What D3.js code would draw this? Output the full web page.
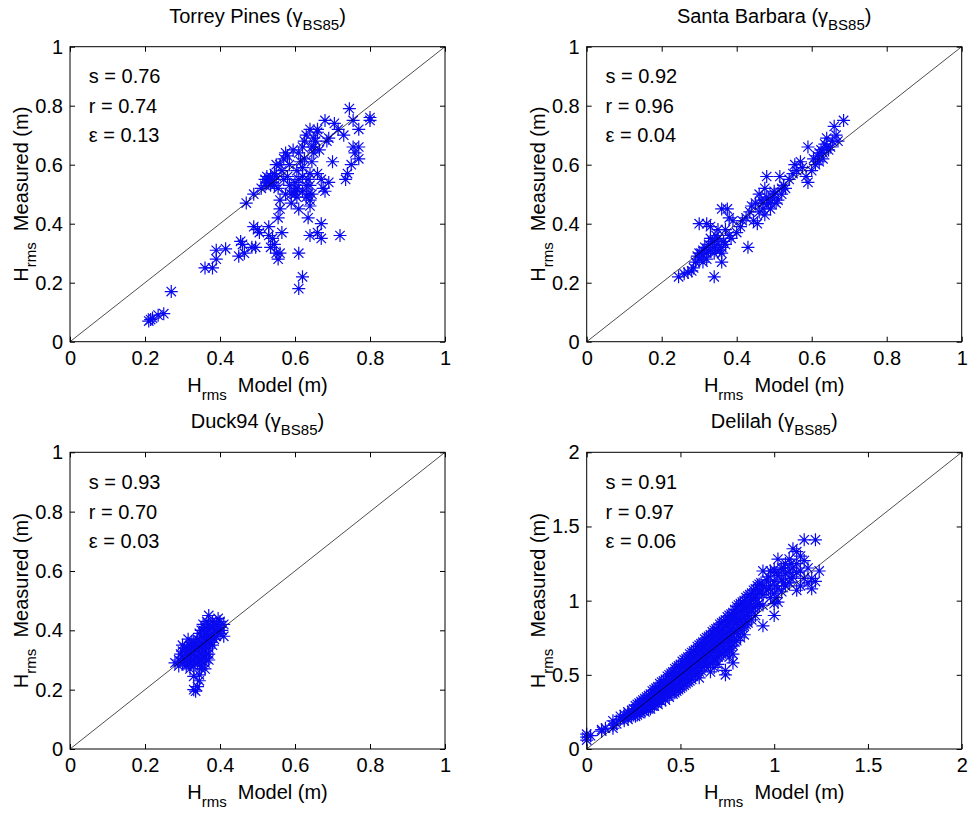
<!DOCTYPE html>
<html>
<head>
<meta charset="utf-8">
<script src="https://cdn.jsdelivr.net/npm/d3@7/dist/d3.min.js"></script>
<style>
html, body { margin: 0; padding: 0; background: #fff; }
svg { display: block; font-family: "Liberation Sans", Arial, sans-serif; }
</style>
</head>
<body>
<svg id="chart" width="968" height="813"></svg>
<script>
// ---------- DATA ----------
const panelTitles = ["Torrey Pines", "Santa Barbara", "Duck94", "Delilah"];
const statS = ["0.76", "0.92", "0.93", "0.91"];
const statR = ["0.74", "0.96", "0.70", "0.97"];
const statE = ["0.13", "0.04", "0.03", "0.06"];
const ticksUnit = [0, 0.2, 0.4, 0.6, 0.8, 1];
const ticksDouble = [0, 0.5, 1, 1.5, 2];

const torreyPines = [
  [0.21,0.07],[0.215,0.075],[0.22,0.08],[0.235,0.09],[0.25,0.095],[0.27,0.17],
  [0.36,0.25],[0.38,0.25],[0.39,0.31],[0.39,0.28],[0.415,0.315],[0.45,0.29],[0.455,0.34],
  [0.46,0.33],[0.465,0.30],[0.485,0.32],[0.49,0.39],[0.495,0.32],[0.50,0.38],[0.505,0.37],
  [0.53,0.39],[0.53,0.36],[0.535,0.32],[0.54,0.35],[0.545,0.33],[0.55,0.30],[0.555,0.28],
  [0.56,0.30],[0.565,0.37],[0.61,0.30],[0.62,0.22],[0.61,0.18],[0.635,0.42],[0.64,0.36],
  [0.66,0.37],[0.67,0.40],[0.67,0.35],[0.72,0.36],
  [0.47,0.47],[0.49,0.50],[0.51,0.52],[0.52,0.55],[0.525,0.56],[0.53,0.54],[0.535,0.56],
  [0.54,0.55],[0.545,0.57],[0.55,0.60],[0.555,0.52],[0.56,0.48],[0.56,0.45],[0.555,0.42],
  [0.565,0.58],[0.57,0.62],[0.58,0.63],[0.58,0.56],[0.585,0.53],[0.59,0.50],[0.595,0.65],
  [0.60,0.52],[0.605,0.49],[0.61,0.55],[0.61,0.45],[0.615,0.61],[0.62,0.66],[0.62,0.59],
  [0.625,0.62],[0.63,0.70],[0.63,0.53],[0.635,0.55],[0.64,0.48],[0.64,0.46],[0.645,0.50],
  [0.65,0.66],[0.65,0.64],[0.655,0.68],[0.66,0.71],[0.66,0.57],[0.665,0.65],[0.67,0.55],
  [0.675,0.52],[0.68,0.75],[0.685,0.68],[0.69,0.54],[0.69,0.69],[0.70,0.61],[0.705,0.74],
  [0.715,0.72],[0.73,0.70],[0.735,0.55],[0.74,0.57],[0.745,0.79],[0.75,0.60],[0.755,0.66],
  [0.755,0.75],[0.76,0.64],[0.77,0.72],[0.77,0.66],[0.77,0.62],[0.80,0.76],[0.80,0.75],
  [0.52,0.53],[0.545,0.53],[0.575,0.50],[0.60,0.54],[0.605,0.58],[0.62,0.51],[0.625,0.68],
  [0.64,0.57],[0.645,0.61],[0.61,0.64],[0.585,0.60],[0.57,0.55],[0.63,0.49],[0.68,0.51],
  [0.60,0.51],[0.59,0.47],[0.64,0.72],[0.66,0.72],
  [0.53,0.55],[0.54,0.54],[0.535,0.53],[0.55,0.56],[0.525,0.54],[0.60,0.50],[0.605,0.52],
  [0.64,0.53],[0.635,0.50],[0.645,0.66],[0.65,0.69],[0.56,0.60],[0.575,0.64],[0.62,0.56]
];

const santaBarbara = [
  [0.245,0.22],[0.26,0.23],[0.27,0.235],[0.28,0.24],[0.285,0.25],[0.29,0.27],[0.295,0.29],
  [0.30,0.28],[0.305,0.30],[0.31,0.31],[0.31,0.29],[0.315,0.32],[0.32,0.30],[0.325,0.33],
  [0.33,0.31],[0.33,0.35],[0.335,0.34],[0.34,0.22],[0.34,0.32],[0.345,0.36],[0.35,0.33],
  [0.355,0.31],[0.36,0.27],[0.36,0.45],[0.365,0.34],[0.37,0.38],[0.375,0.45],[0.38,0.36],
  [0.385,0.35],[0.39,0.41],[0.30,0.40],[0.32,0.40],[0.33,0.39],[0.35,0.38],[0.40,0.37],
  [0.41,0.39],[0.415,0.41],[0.425,0.42],[0.43,0.32],[0.435,0.44],[0.44,0.46],[0.445,0.41],
  [0.45,0.47],[0.455,0.40],[0.46,0.44],[0.465,0.48],[0.47,0.45],[0.475,0.43],[0.48,0.56],
  [0.485,0.47],[0.49,0.45],[0.495,0.49],[0.50,0.51],[0.505,0.47],[0.51,0.48],[0.515,0.56],
  [0.52,0.50],[0.525,0.53],[0.53,0.52],[0.54,0.55],[0.55,0.57],[0.555,0.60],[0.56,0.58],
  [0.57,0.61],[0.575,0.59],[0.585,0.56],[0.59,0.54],[0.59,0.66],[0.60,0.58],[0.605,0.62],
  [0.61,0.60],[0.615,0.63],[0.62,0.61],[0.625,0.65],[0.63,0.64],[0.635,0.67],[0.64,0.69],
  [0.645,0.65],[0.65,0.66],[0.655,0.68],[0.66,0.73],[0.665,0.70],[0.67,0.68],[0.685,0.75],
  [0.46,0.50],[0.475,0.52],[0.50,0.50],[0.52,0.52],[0.38,0.42],[0.36,0.30],[0.32,0.28],[0.34,0.30],
  [0.30,0.30],[0.31,0.27],[0.325,0.31],[0.34,0.34],[0.35,0.35],[0.36,0.32],[0.37,0.33],[0.345,0.31],
  [0.48,0.49],[0.49,0.47],[0.47,0.47],[0.62,0.64],[0.63,0.62],[0.64,0.66]
];

const duck94 = [
  [0.28,0.29],[0.29,0.30],[0.29,0.28],[0.30,0.31],[0.30,0.29],[0.30,0.33],[0.31,0.30],
  [0.31,0.32],[0.31,0.34],[0.31,0.28],[0.32,0.31],[0.32,0.33],[0.32,0.35],[0.32,0.29],
  [0.32,0.27],[0.33,0.30],[0.33,0.32],[0.33,0.34],[0.33,0.36],[0.33,0.28],[0.34,0.31],
  [0.34,0.33],[0.34,0.35],[0.34,0.29],[0.34,0.37],[0.35,0.30],[0.35,0.32],[0.35,0.34],
  [0.35,0.36],[0.35,0.28],[0.36,0.31],[0.36,0.33],[0.36,0.35],[0.36,0.29],[0.37,0.32],
  [0.37,0.34],[0.37,0.30],[0.36,0.27],[0.30,0.35],[0.315,0.37],
  [0.35,0.38],[0.35,0.40],[0.355,0.42],[0.36,0.37],[0.36,0.39],[0.36,0.41],[0.365,0.43],
  [0.37,0.38],[0.37,0.40],[0.37,0.42],[0.37,0.45],[0.375,0.36],[0.38,0.39],[0.38,0.41],
  [0.38,0.43],[0.385,0.37],[0.39,0.38],[0.39,0.40],[0.39,0.42],[0.395,0.44],[0.40,0.39],
  [0.40,0.41],[0.40,0.43],[0.405,0.40],[0.41,0.42],[0.41,0.38],[0.38,0.35],[0.37,0.36],
  [0.33,0.20],[0.335,0.195],[0.34,0.21],[0.345,0.23],[0.33,0.245],[0.35,0.27],[0.345,0.25],
  [0.295,0.32],[0.305,0.30],[0.305,0.34],[0.315,0.29],[0.315,0.33],[0.325,0.30],[0.325,0.34],
  [0.325,0.36],[0.335,0.31],[0.335,0.35],[0.345,0.30],[0.345,0.34],[0.355,0.31],[0.355,0.35],
  [0.365,0.32],[0.365,0.36],[0.375,0.38],[0.375,0.41],[0.385,0.40],[0.385,0.42],[0.395,0.39],
  [0.395,0.41],[0.365,0.39],[0.355,0.40],[0.345,0.39]
];

const delilah = [
  [0.00,0.08],[0.00,0.06],[0.00,0.10],[0.02,0.09],[0.08,0.13],[0.08,0.12],[0.10,0.14],
  [0.14,0.16],[0.14,0.14],[0.14,0.19],[0.16,0.17],[0.18,0.22],[0.18,0.20],
  [0.20,0.23],[0.20,0.21],[0.20,0.19],[0.22,0.25],[0.22,0.23],[0.22,0.20],
  [0.24,0.26],[0.24,0.24],[0.24,0.22],[0.26,0.29],[0.26,0.27],[0.26,0.24],[0.26,0.22],
  [0.28,0.31],[0.28,0.28],[0.28,0.26],[0.28,0.24],[0.30,0.33],[0.30,0.30],[0.30,0.28],[0.30,0.26],
  [0.32,0.35],[0.32,0.32],[0.32,0.30],[0.32,0.27],[0.34,0.37],[0.34,0.35],[0.34,0.32],[0.34,0.29],[0.34,0.27],
  [0.36,0.40],[0.36,0.37],[0.36,0.34],[0.36,0.31],[0.36,0.29],[0.38,0.42],[0.38,0.39],[0.38,0.36],[0.38,0.33],[0.38,0.30],
  [0.40,0.45],[0.40,0.42],[0.40,0.38],[0.40,0.35],[0.40,0.32],[0.42,0.47],[0.42,0.44],[0.42,0.40],[0.42,0.37],[0.42,0.33],
  [0.44,0.50],[0.44,0.46],[0.44,0.42],[0.44,0.39],[0.44,0.35],[0.46,0.52],[0.46,0.49],[0.46,0.45],[0.46,0.41],[0.46,0.37],
  [0.48,0.55],[0.48,0.51],[0.48,0.47],[0.48,0.43],[0.48,0.39],[0.50,0.57],[0.50,0.54],[0.50,0.50],[0.50,0.46],[0.50,0.41],
  [0.52,0.60],[0.52,0.56],[0.52,0.52],[0.52,0.48],[0.52,0.43],[0.54,0.62],[0.54,0.58],[0.54,0.54],[0.54,0.50],[0.54,0.45],
  [0.56,0.65],[0.56,0.61],[0.56,0.57],[0.56,0.53],[0.56,0.47],[0.58,0.67],[0.58,0.63],[0.58,0.59],[0.58,0.55],[0.58,0.50],
  [0.60,0.70],[0.60,0.66],[0.60,0.61],[0.60,0.57],[0.60,0.52],[0.60,0.48],[0.62,0.72],[0.62,0.68],[0.62,0.64],[0.62,0.59],[0.62,0.55],
  [0.64,0.75],[0.64,0.71],[0.64,0.66],[0.64,0.61],[0.64,0.57],[0.66,0.77],[0.66,0.73],[0.66,0.68],[0.66,0.63],[0.66,0.58],[0.66,0.52],
  [0.68,0.80],[0.68,0.76],[0.68,0.71],[0.68,0.66],[0.68,0.61],[0.68,0.55],[0.70,0.82],[0.70,0.78],[0.70,0.73],[0.70,0.68],[0.70,0.62],[0.70,0.57],
  [0.72,0.85],[0.72,0.80],[0.72,0.75],[0.72,0.70],[0.72,0.64],[0.74,0.87],[0.74,0.83],[0.74,0.77],[0.74,0.72],[0.74,0.66],[0.74,0.50],[0.74,0.53],
  [0.76,0.90],[0.76,0.86],[0.76,0.80],[0.76,0.74],[0.76,0.68],[0.76,0.62],[0.78,0.92],[0.78,0.88],[0.78,0.82],[0.78,0.76],[0.78,0.70],[0.78,0.64],[0.78,0.58],
  [0.80,0.96],[0.80,0.91],[0.80,0.85],[0.80,0.79],[0.80,0.73],[0.82,0.98],[0.82,0.93],[0.82,0.87],[0.82,0.81],[0.82,0.75],
  [0.84,1.00],[0.84,0.95],[0.84,0.89],[0.84,0.83],[0.84,0.77],[0.86,1.03],[0.86,0.97],[0.86,0.91],[0.86,0.85],
  [0.88,1.05],[0.88,1.00],[0.88,0.93],[0.88,0.87],[0.90,1.08],[0.90,1.02],[0.90,0.96],[0.90,0.90],
  [0.92,1.11],[0.92,1.05],[0.92,0.98],[0.94,1.20],[0.94,1.10],[0.94,1.04],[0.94,0.97],[0.94,0.83],
  [0.96,1.14],[0.96,1.07],[0.98,1.20],[0.98,1.10],[0.98,1.02],
  [1.00,1.21],[1.00,1.13],[1.00,1.05],[1.00,0.98],[1.00,0.90],[1.02,1.28],[1.02,1.17],[1.02,1.08],[1.02,0.99],
  [1.04,1.22],[1.04,1.14],[1.04,1.06],[1.06,1.25],[1.06,1.18],[1.06,1.10],[1.08,1.28],[1.08,1.20],[1.08,1.12],
  [1.10,1.35],[1.10,1.22],[1.10,1.16],[1.12,1.33],[1.12,1.25],[1.12,1.19],[1.12,1.07],
  [1.14,1.30],[1.14,1.20],[1.14,1.10],[1.16,1.41],[1.16,1.27],[1.16,1.15],[1.18,1.22],[1.18,1.12],
  [1.20,1.08],[1.20,1.15],[1.22,1.41],[1.22,1.13],[1.24,1.20],
  [0.25,0.27],[0.25,0.23],[0.27,0.30],[0.27,0.27],[0.27,0.23],[0.29,0.32],[0.29,0.29],[0.29,0.25],
  [0.31,0.34],[0.31,0.31],[0.31,0.28],[0.31,0.25],[0.33,0.36],[0.33,0.33],[0.33,0.30],[0.33,0.27],
  [0.35,0.39],[0.35,0.36],[0.35,0.33],[0.35,0.29],[0.37,0.41],[0.37,0.38],[0.37,0.35],[0.37,0.31],
  [0.39,0.44],[0.39,0.40],[0.39,0.37],[0.39,0.33],[0.41,0.46],[0.41,0.43],[0.41,0.39],[0.41,0.35],
  [0.43,0.49],[0.43,0.45],[0.43,0.41],[0.43,0.37],[0.45,0.51],[0.45,0.47],[0.45,0.43],[0.45,0.39],
  [0.47,0.54],[0.47,0.50],[0.47,0.46],[0.47,0.42],[0.47,0.38],[0.49,0.56],[0.49,0.52],[0.49,0.48],[0.49,0.44],[0.49,0.40],
  [0.51,0.59],[0.51,0.55],[0.51,0.51],[0.51,0.47],[0.51,0.42],[0.53,0.61],[0.53,0.57],[0.53,0.53],[0.53,0.49],[0.53,0.44],
  [0.55,0.64],[0.55,0.60],[0.55,0.55],[0.55,0.51],[0.55,0.46],[0.57,0.66],[0.57,0.62],[0.57,0.58],[0.57,0.54],[0.57,0.49],
  [0.59,0.69],[0.59,0.65],[0.59,0.60],[0.59,0.56],[0.59,0.51],[0.61,0.71],[0.61,0.67],[0.61,0.62],[0.61,0.58],[0.61,0.53],
  [0.63,0.74],[0.63,0.70],[0.63,0.65],[0.63,0.60],[0.63,0.56],[0.65,0.76],[0.65,0.72],[0.65,0.67],[0.65,0.62],[0.65,0.57],
  [0.67,0.79],[0.67,0.75],[0.67,0.70],[0.67,0.65],[0.67,0.59],[0.69,0.81],[0.69,0.77],[0.69,0.72],[0.69,0.67],[0.69,0.60],
  [0.71,0.84],[0.71,0.79],[0.71,0.74],[0.71,0.69],[0.71,0.63],[0.73,0.86],[0.73,0.82],[0.73,0.76],[0.73,0.71],[0.73,0.65],
  [0.75,0.89],[0.75,0.84],[0.75,0.79],[0.75,0.73],[0.75,0.67],[0.77,0.91],[0.77,0.87],[0.77,0.81],[0.77,0.75],[0.77,0.69],
  [0.79,0.94],[0.79,0.89],[0.79,0.84],[0.79,0.78],[0.79,0.72],[0.81,0.97],[0.81,0.92],[0.81,0.86],[0.81,0.80],
  [0.83,0.99],[0.83,0.94],[0.83,0.88],[0.83,0.82],[0.85,1.02],[0.85,0.96],[0.85,0.90],[0.85,0.84],
  [0.87,1.04],[0.87,0.98],[0.87,0.92],[0.89,1.07],[0.89,1.01],[0.89,0.95],[0.91,1.10],[0.91,1.04],[0.91,0.97],
  [0.93,1.12],[0.93,1.06],[0.97,1.16],[0.97,1.08],[1.01,1.19],[1.01,1.10],[1.01,1.02],
  [1.05,1.22],[1.05,1.12],[1.09,1.25],[1.09,1.15]
];

const panelData = [torreyPines, santaBarbara, duck94, delilah];
const panelMax = [1, 1, 1, 2];
const panelTicks = [ticksUnit, ticksUnit, ticksUnit, ticksDouble];
const statY = [[0.9,0.8,0.7],[0.9,0.8,0.7],[0.9,0.8,0.7],[1.8,1.6,1.4]];

// ---------- LAYOUT ----------
const boxes = [
  {x0: 70,    x1: 445,   y0: 46.7,  y1: 341.7},
  {x0: 586.7, x1: 961.7, y0: 46.7,  y1: 341.7},
  {x0: 70,    x1: 445,   y0: 452.3, y1: 749},
  {x0: 586.7, x1: 961.7, y0: 452.3, y1: 749}
];

const svg = d3.select("#chart");
svg.append("rect").attr("width", 968).attr("height", 813).attr("fill", "#fff");

const starPath = "M-6.5,0H6.5M0,-6.5V6.5M-4.7,-4.7L4.7,4.7M-4.7,4.7L4.7,-4.7";
const FS = 20, SUB = 15;

boxes.forEach((b, i) => {
  const x = d3.scaleLinear().domain([0, panelMax[i]]).range([b.x0, b.x1]);
  const y = d3.scaleLinear().domain([0, panelMax[i]]).range([b.y1, b.y0]);
  const g = svg.append("g");
  const fmt = d => String(d);

  // axes
  const ax = [
    g.append("g").attr("transform", `translate(0,${b.y1})`).call(d3.axisBottom(x).tickValues(panelTicks[i]).tickSize(-5).tickSizeOuter(0).tickPadding(9).tickFormat(fmt)),
    g.append("g").attr("transform", `translate(${b.x0},0)`).call(d3.axisLeft(y).tickValues(panelTicks[i]).tickSize(-5).tickSizeOuter(0).tickPadding(7).tickFormat(fmt)),
    g.append("g").attr("transform", `translate(0,${b.y0})`).call(d3.axisTop(x).tickValues(panelTicks[i]).tickSize(-5).tickSizeOuter(0).tickFormat("")),
    g.append("g").attr("transform", `translate(${b.x1},0)`).call(d3.axisRight(y).tickValues(panelTicks[i]).tickSize(-5).tickSizeOuter(0).tickFormat(""))
  ];
  ax.forEach(a => {
    a.select(".domain").remove();
    a.selectAll("line").attr("stroke", "#000").attr("stroke-width", 1);
    a.selectAll("text").attr("font-size", FS).attr("fill", "#000").attr("font-family", "Liberation Sans, Arial, sans-serif");
  });

  // points
  g.append("g").selectAll("path").data(panelData[i]).join("path")
    .attr("d", starPath)
    .attr("transform", d => `translate(${x(d[0])},${y(d[1])})`)
    .attr("fill", "none").attr("stroke", "#0a0af0").attr("stroke-width", 1.2);

  // 1:1 line
  g.append("line")
    .attr("x1", x(0)).attr("y1", y(0)).attr("x2", x(panelMax[i])).attr("y2", y(panelMax[i]))
    .attr("stroke", "#000").attr("stroke-width", 0.7);

  // box
  g.append("rect").attr("x", b.x0).attr("y", b.y0).attr("width", b.x1 - b.x0).attr("height", b.y1 - b.y0)
    .attr("fill", "none").attr("stroke", "#000").attr("stroke-width", 1);

  // stats
  const labels = [["s = ", statS[i]], ["r = ", statR[i]], ["\u03B5 = ", statE[i]]];
  labels.forEach((l, k) => {
    g.append("text").attr("x", x(0.05 * panelMax[i])).attr("y", y(statY[i][k])).attr("dy", "0.35em")
      .attr("font-size", FS).attr("fill", "#000").text(l[0] + l[1]);
  });

  // title
  const cx = (b.x0 + b.x1) / 2;
  const t = g.append("text").attr("x", cx).attr("y", b.y0 - 24).attr("text-anchor", "middle").attr("font-size", FS).attr("fill", "#000");
  t.append("tspan").text(panelTitles[i] + " (\u03B3");
  t.append("tspan").attr("font-size", SUB).attr("dy", 7).text("BS85");
  t.append("tspan").attr("dy", -7).text(")");

  // x label
  const xl = g.append("text").attr("x", cx).attr("y", b.y1 + 50).attr("text-anchor", "middle").attr("font-size", FS).attr("fill", "#000");
  xl.append("tspan").text("H");
  xl.append("tspan").attr("font-size", SUB).attr("dy", 8).text("rms");
  xl.append("tspan").attr("dy", -8).text("\u00A0\u00A0Model (m)");

  // y label
  const cy = (b.y0 + b.y1) / 2;
  const yl = g.append("text").attr("transform", `translate(${b.x0 - 41.7},${cy}) rotate(-90)`)
    .attr("text-anchor", "middle").attr("font-size", FS).attr("fill", "#000");
  yl.append("tspan").text("H");
  yl.append("tspan").attr("font-size", SUB).attr("dy", 8).text("rms");
  yl.append("tspan").attr("dy", -8).text("\u00A0\u00A0Measured (m)");
});
</script>
</body>
</html>
